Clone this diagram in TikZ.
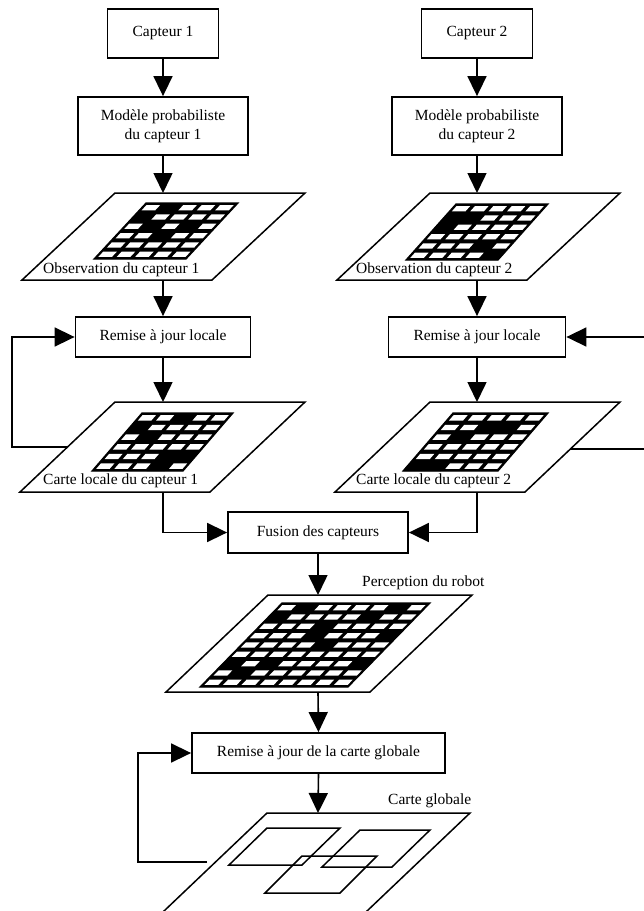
\documentclass[tikz,border=0pt]{standalone}
\usepackage{fontspec}
\setmainfont{Liberation Serif}
\usetikzlibrary{arrows.meta}

% grid: #1 x0, #2 y0 (top-left), #3 width, #4 height, #5 slant offset, #6 cols, #7 rows, #8 black cells i/j
\newcommand{\mygrid}[8]{%
  \begin{scope}[shift={(#1,#2)}, x={({#3/#6*1pt},0pt)}, y={({-#5/#7*1pt},{-#4/#7*1pt})}]
    \fill[black] (0,0) -- (#6,0) -- (#6,#7) -- (0,#7) -- cycle;
    \foreach \i in {1,...,#6}{\foreach \j in {1,...,#7}{%
      \fill[white] ({\i-0.87},{\j-0.78}) -- ({\i-0.13},{\j-0.78}) -- ({\i-0.13},{\j-0.22}) -- ({\i-0.87},{\j-0.22}) -- cycle;}}
    \foreach \i/\j in {#8}{\fill[black] ({\i-1},{\j-1}) -- (\i,{\j-1}) -- (\i,\j) -- ({\i-1},\j) -- cycle;}
    \draw[line width=1.2pt] (0,0) -- (#6,0) -- (#6,#7) -- (0,#7) -- cycle;
  \end{scope}}

% plane: #1 x0 (top-left), #2 y0, #3 width, #4 height, #5 slant offset
\newcommand{\myplane}[5]{%
  \draw[planeline] (#1,#2) -- ++(#3,0) -- ++(-#5,#4) -- ++(-#3,0) -- cycle;}

\begin{document}
\begin{tikzpicture}[x=1pt,y=-1pt,
  txt/.style={font=\fontsize{15.5}{19}\selectfont},
  box/.style={txt, draw, line width=1.8pt, inner sep=0pt, align=center, fill=white},
  lbl/.style={txt, inner sep=0pt, anchor=base west},
  conn/.style={line width=1.6pt, -{Triangle[length=20pt,width=19pt]}},
  plainline/.style={line width=1.6pt},
  planeline/.style={line width=1.5pt, line join=miter}]
\path[use as bounding box] (0,0) rectangle (644,911);
\begin{scope}
\clip (0,0) rectangle (644,911);

% ---- boxes ----
\node[box, minimum width=111pt, minimum height=49pt] (c1) at (163,33.5) {Capteur 1};
\node[box, minimum width=111pt, minimum height=49pt] (c2) at (477,33.5) {Capteur 2};
\node[box, minimum width=170pt, minimum height=58pt] (m1) at (163,126) {Modèle probabiliste\\du capteur 1};
\node[box, minimum width=170pt, minimum height=58pt] (m2) at (477,126) {Modèle probabiliste\\du capteur 2};
\node[box, minimum width=175pt, minimum height=40pt] (r1) at (163,337) {Remise à jour locale};
\node[box, minimum width=177pt, minimum height=40pt] (r2) at (477,337) {Remise à jour locale};
\node[box, minimum width=180pt, minimum height=41pt] (fus) at (318,532.5) {Fusion des capteurs};
\node[box, minimum width=253pt, minimum height=40pt] (glob) at (318.5,753) {Remise à jour de la carte globale};

% ---- planes ----
\myplane{115}{193}{190}{87}{93}
\myplane{430}{193}{190}{87}{93}
\myplane{115}{402}{190}{90}{95}
\myplane{430}{402}{190}{90}{95}
\myplane{268}{595}{204}{97}{102}

% ---- grids ----
\mygrid{146}{203}{92}{56}{52}{5}{6}{2/1, 1/2, 2/3, 4/3, 3/4}
\mygrid{456}{204}{92}{56}{50}{5}{6}{1/2, 2/2, 1/3, 4/5, 5/6}
\mygrid{142}{413}{91}{58}{50}{5}{6}{3/1, 1/2, 2/3, 4/5, 5/5, 4/6}
\mygrid{453}{413}{95}{58}{50}{5}{6}{3/2, 4/2, 2/3, 1/6, 2/6}
\mygrid{282}{603}{148}{84}{82}{8}{9}{2/1, 7/1, 1/2, 6/2, 4/3, 4/4, 8/4, 5/5, 1/7, 3/7, 8/7, 2/8}

% ---- global map plane ----
\draw[planeline] (149.3,925) -- (267,813) -- (470,813) -- (352.3,925);
\myplane{267}{828}{73}{37}{38}
\myplane{360}{830}{70}{37}{38}
\myplane{302}{856}{75}{37}{37}

% ---- labels ----
\node[lbl] (lo1) at (43,273) {Observation du capteur 1};
\node[lbl] (lo2) at (356,273) {Observation du capteur 2};
\node[lbl] (lc1) at (43,484) {Carte locale du capteur 1};
\node[lbl] (lc2) at (356,484) {Carte locale du capteur 2};
\node[lbl] (lp) at (362,586) {Perception du robot};
\node[lbl] (lg) at (388,804) {Carte globale};

% ---- coordinates ----
\coordinate (o1in) at (163,193);
\coordinate (o2in) at (477,193);
\coordinate (o1out) at (163,280);
\coordinate (o2out) at (477,280);
\coordinate (l1in) at (163,402);
\coordinate (l2in) at (477,402);
\coordinate (l1out) at (163,492);
\coordinate (l2out) at (477,492);
\coordinate (pin) at (318,595);
\coordinate (pout) at (318,692);
\coordinate (gin) at (318,813);
\coordinate (l1fb) at (67,447);
\coordinate (l1fbx) at (12,447);
\coordinate (r2fb) at (650,337);
\coordinate (l2fb) at (570,449);
\coordinate (l2fbx) at (650,449);
\coordinate (gfb) at (207,862);
\coordinate (gfbx) at (138,862);

% ---- connectors ----
\draw[conn] (c1.south) -- (m1.north);
\draw[conn] (c2.south) -- (m2.north);
\draw[conn] (m1.south) -- (o1in);
\draw[conn] (m2.south) -- (o2in);
\draw[conn] (o1out) -- (r1.north);
\draw[conn] (o2out) -- (r2.north);
\draw[conn] (r1.south) -- (l1in);
\draw[conn] (r2.south) -- (l2in);
\draw[conn] (l1out) |- (fus.west);
\draw[conn] (l2out) |- (fus.east);
\draw[conn] (fus.south) -- (pin);
\draw[conn] (pout) -- (glob.north);
\draw[conn] (glob.south) -- (gin);
\draw[conn] (l1fb) -- (l1fbx) |- (r1.west);
\draw[conn] (r2fb) -- (r2.east);
\draw[plainline] (l2fb) -- (l2fbx);
\draw[conn] (gfb) -- (gfbx) |- (glob.west);
\end{scope}
\end{tikzpicture}
\end{document}
